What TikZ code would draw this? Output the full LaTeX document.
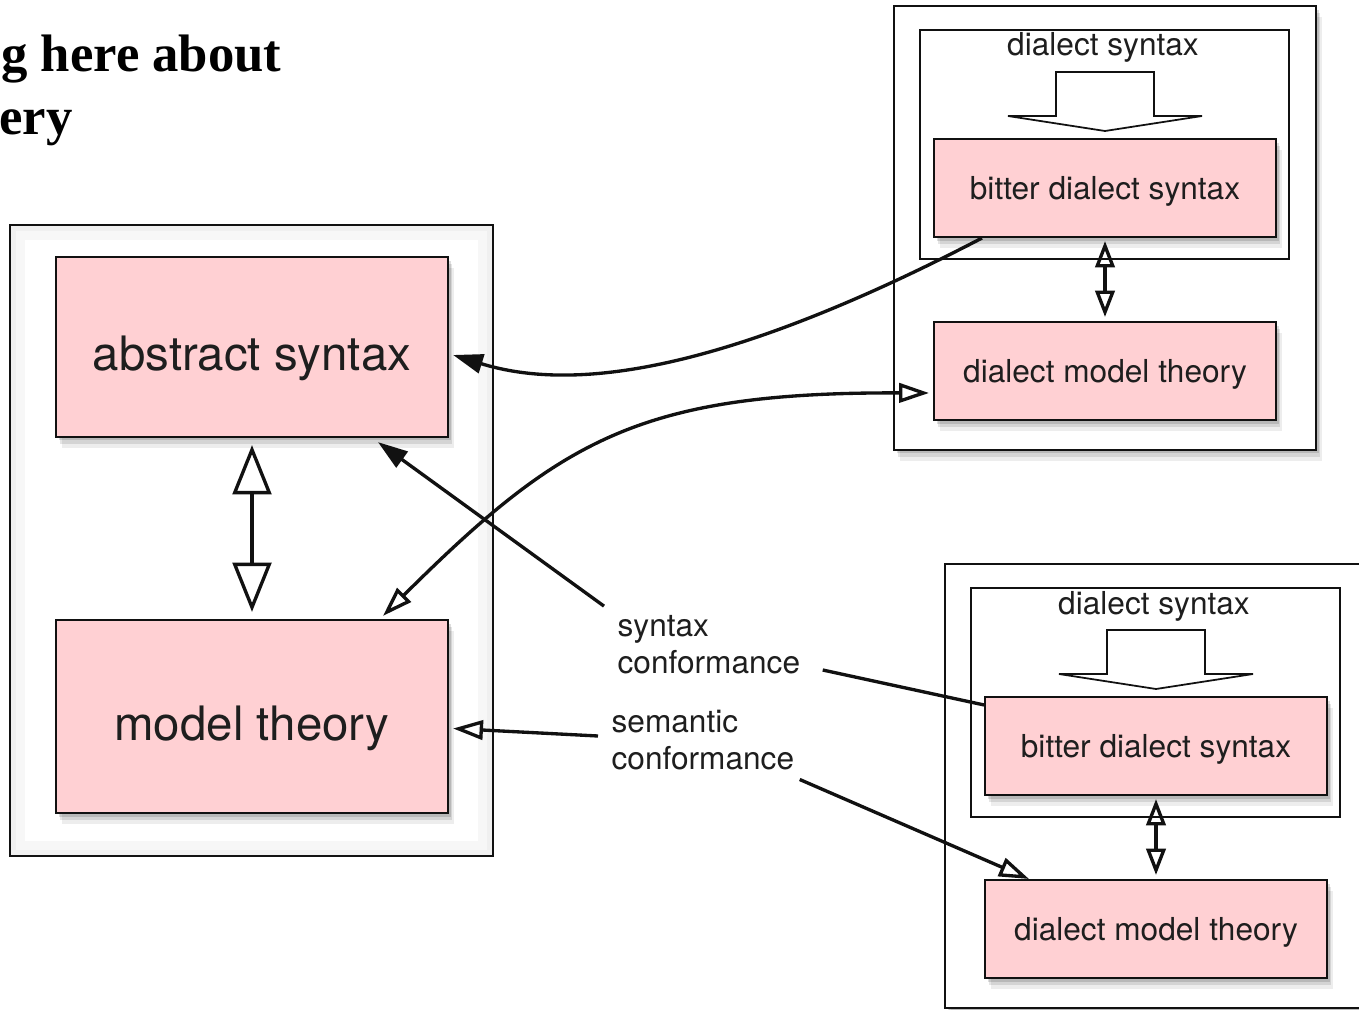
\documentclass[tikz,border=0pt]{standalone}
\usepackage{fontspec}
\setmainfont{TeX Gyre Heros}
\newfontfamily\titlefont{Liberation Serif}
\usepackage{tikz}
\usetikzlibrary{arrows.meta, positioning, calc, shadows}
\definecolor{boxpink}{HTML}{FFD0D3}
\definecolor{inktext}{HTML}{1E1E1E}
\definecolor{inkline}{HTML}{111111}

\begin{document}
\begin{tikzpicture}[
    x=0.02cm, y=-0.02cm,
    softshadow/.style={
        general shadow={fill=black, opacity=.13, shadow xshift=1.5pt, shadow yshift=-2pt},
        general shadow={fill=black, opacity=.10, shadow xshift=2.5pt, shadow yshift=-4pt},
        general shadow={fill=black, opacity=.07, shadow xshift=3.5pt, shadow yshift=-6.5pt}},
    bigbox/.style={draw=inkline, line width=1.3pt, fill=boxpink, softshadow, minimum width=7.84cm, minimum height=3.6cm, font=\fontsize{27}{32}\selectfont, text=inktext, text height=27pt, text depth=0pt},
    smallbox/.style={draw=inkline, line width=1.2pt, fill=boxpink, softshadow, minimum width=6.84cm, minimum height=1.96cm, font=\fontsize{18}{22}\selectfont, text=inktext, text height=13pt, text depth=0pt},
    frame/.style={draw=inkline, line width=1.3pt, fill=white, softshadow, minimum width=8.44cm, minimum height=8.88cm},
    subframe/.style={draw=inkline, line width=1pt, minimum width=7.38cm, minimum height=4.58cm},
    note/.style={font=\fontsize{18}{21}\selectfont, text=inktext, align=left, inner sep=3pt},
    conn/.style={draw=inkline, line width=1.9pt},
    solidend/.style={-{Triangle[length=17pt, width=11pt]}},
    openend/.style={-{Triangle[open, length=17pt, width=11pt]}},
    openboth/.style={{Triangle[open, length=17pt, width=11pt]}-{Triangle[open, length=17pt, width=11pt]}},
    smallboth/.style={{Triangle[open, length=15pt, width=11pt]}-{Triangle[open, length=15pt, width=11pt]}},
    bigboth/.style={{Triangle[open, length=28pt, width=22pt]}-{Triangle[open, length=28pt, width=22pt]}},
]
    \useasboundingbox (0,0) rectangle (1359,1010);
    \clip (0,0) rectangle (1359,1010);

    % slide heading
    \node[anchor=base west, inner sep=0pt, font=\titlefont\bfseries\fontsize{30}{36}\selectfont] (head1) at (1,72) {g here about};
    \node[anchor=base east, inner sep=0pt, font=\titlefont\bfseries\fontsize{30}{36}\selectfont] (head2) at (73,135) {ery};

    % left container
    \node[draw=inkline, line width=1.2pt, fill=black!6, minimum width=9.66cm, minimum height=12.62cm] (lhs) at (251.5,540.5) {};
    \fill[black!3] ($(lhs.south west)+(7,-7)$) rectangle ($(lhs.north east)+(-7,7)$);
    \fill[white] ($(lhs.south west)+(16,-16)$) rectangle ($(lhs.north east)+(-16,16)$);
    \node[bigbox] (abs) at (252,347) {abstract syntax};
    \node[bigbox, minimum height=3.86cm] (model) at (252,716.5) {model theory};
    \draw[conn, bigboth] ($(abs.south)+(0,7)$) -- ($(model.north)+(0,-7)$);

    % upper dialect
    \node[frame] (dialA) at (1105,228) {};
    \node[subframe] (synA) at (1104.5,144.5) {};
    \node[note] (synlblA) at (1103,47) {dialect syntax};
    \draw[inkline, line width=1pt, fill=white] (1056,72) -- (1154,72) -- (1154,116) -- (1202,116) -- (1105,131) -- (1008,116) -- (1056,116) -- cycle;
    \node[smallbox] (bitA) at (1105,188) {bitter dialect syntax};
    \node[smallbox] (dmtA) at (1105,371) {dialect model theory};
    \draw[conn, smallboth] ($(bitA.south)+(0,3)$) -- ($(dmtA.north)+(0,-4)$);

    % lower dialect
    \node[frame] (dialB) at (1156,786) {};
    \node[subframe] (synB) at (1155.5,702.5) {};
    \node[note] (synlblB) at (1154,606) {dialect syntax};
    \draw[inkline, line width=1pt, fill=white] (1107,630) -- (1205,630) -- (1205,674) -- (1253,674) -- (1156,689) -- (1059,674) -- (1107,674) -- cycle;
    \node[smallbox] (bitB) at (1156,746) {bitter dialect syntax};
    \node[smallbox] (dmtB) at (1156,929) {dialect model theory};
    \draw[conn, smallboth] ($(bitB.south)+(0,3)$) -- ($(dmtB.north)+(0,-4)$);

    % links between the sides
    \draw[conn, solidend] ($(bitA.south west)+(49,0)$) .. controls (700,385) and (560,388) .. ($(abs.east)+(4,8)$);
    \draw[conn, openboth] ($(model.north)+(131,-3)$) .. controls (560,440) and (640,392) .. ($(dmtA.west)+(-4,22)$);

    % conformance labels
    \node[note, anchor=west] (syn) at (612,645) {syntax\\conformance};
    \node[note, anchor=west] (sem) at (606,740) {semantic\\conformance};
    \draw[conn, solidend] ($(syn.north west)+(-8,-4)$) -- ($(abs.south)+(126,4)$);
    \draw[conn] ($(syn.east)+(17,25)$) -- ($(bitB.north west)+(0,9)$);
    \draw[conn, openend] ($(sem.west)+(-8,-4)$) -- ($(model.east)+(4,12)$);
    \draw[conn, openend] ($(sem.south east)+(0,4)$) -- ($(dmtB.north west)+(45,0)$);
\end{tikzpicture}
\end{document}
